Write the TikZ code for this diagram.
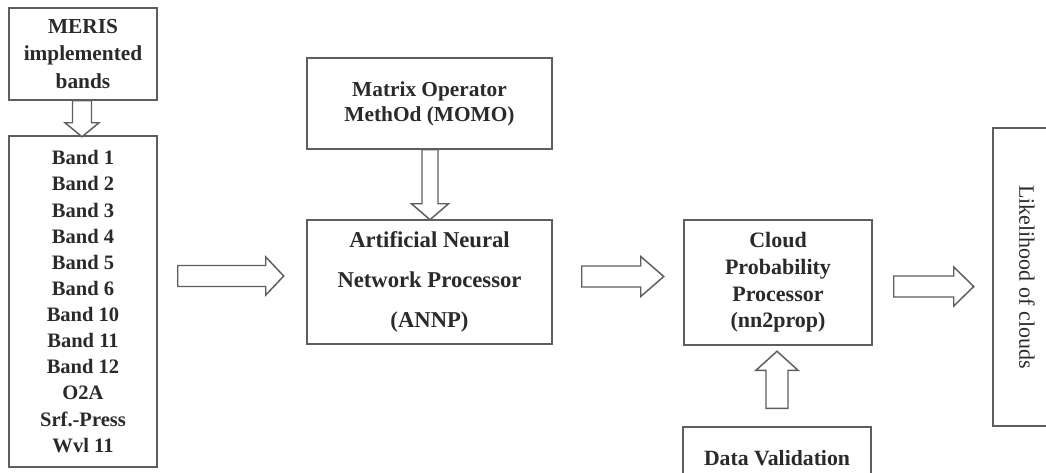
\documentclass[tikz,border=0pt]{standalone}
\usepackage{fontspec}
\setmainfont{Liberation Serif}
\usetikzlibrary{calc}
\definecolor{linegray}{HTML}{5A5F64}
\definecolor{textgray}{HTML}{2A2A2A}
\tikzset{
  box/.style={draw=linegray, line width=1.1pt, fill=white, text=textgray, align=center, inner sep=0pt},
  arrowline/.style={draw=linegray, line width=1.1pt, fill=white, line join=miter},
  pics/barrow/.style args={#1/#2/#3/#4}{code={
    \path[arrowline] (0,-#3) -- ({#1-#2},-#3) -- ({#1-#2},-#4) -- (#1,0) -- ({#1-#2},#4) -- ({#1-#2},#3) -- (0,#3) -- cycle;
  }}
}
\begin{document}
\begin{tikzpicture}[x=0.75pt,y=-0.75pt]
\useasboundingbox (0,0) rectangle (1046,472);
\clip (0,0) rectangle (1046,472);
\fill[white] (0,0) rectangle (1046,472);

\node[box, minimum width=111pt, minimum height=69pt,
      font=\fontsize{16}{20.5}\selectfont\bfseries] (meris) at (83,54)
  {MERIS\\implemented\\bands};

\node[box, minimum width=111pt, minimum height=248.25pt,
      font=\fontsize{15.4}{19.6}\selectfont\bfseries] (bands) at (83,301.5)
  {Band 1\\Band 2\\Band 3\\Band 4\\Band 5\\Band 6\\Band 10\\Band 11\\Band 12\\O2A\\Srf.-Press\\Wvl 11};

\node[box, minimum width=183.75pt, minimum height=68.25pt,
      font=\fontsize{16}{18.75}\selectfont\bfseries] (momo) at (429.5,103.5)
  {Matrix Operator\\MethOd (MOMO)};

\node[box, minimum width=183.75pt, minimum height=93pt,
      font=\fontsize{17}{30}\selectfont\bfseries] (annp) at (429.5,282)
  {Artificial Neural\\Network Processor\\(ANNP)};

\node[box, minimum width=141pt, minimum height=93.75pt,
      font=\fontsize{16.5}{20}\selectfont\bfseries] (cloud) at (778,282.5)
  {Cloud\\Probability\\Processor\\(nn2prop)};

\node[box, minimum width=141pt, minimum height=47.25pt,
      font=\fontsize{16.3}{20}\selectfont\bfseries] (dataval) at (777,458.5)
  {Data Validation};

\node[box, minimum width=65.25pt, minimum height=223.5pt] (likely) at (1036.5,277) {};
\node[text=textgray, rotate=-90, font=\fontsize{16.5}{20}\selectfont] (likelytext) at ($(likely.center)+(-9.5,0)$) {Likelihood of clouds};

% block arrows between the boxes
\pic[rotate=-90] at ($(meris.south)+(-1,0)$) {barrow={36/14/9.5/17}};
\pic at ($(bands.east)+(20,-25.5)$) {barrow={106/18/10.5/19}};
\pic[rotate=-90] at ($(momo.south)+(0.5,0)$) {barrow={70/16/8/18.5}};
\pic at ($(annp.east)+(29,-5.5)$) {barrow={82/23/10.5/20}};
\pic[rotate=90] at ($(dataval.north)+(0,-18)$) {barrow={57/19/11/21}};
\pic at ($(cloud.east)+(21,4)$) {barrow={80/20/10.5/19.5}};
\end{tikzpicture}
\end{document}
